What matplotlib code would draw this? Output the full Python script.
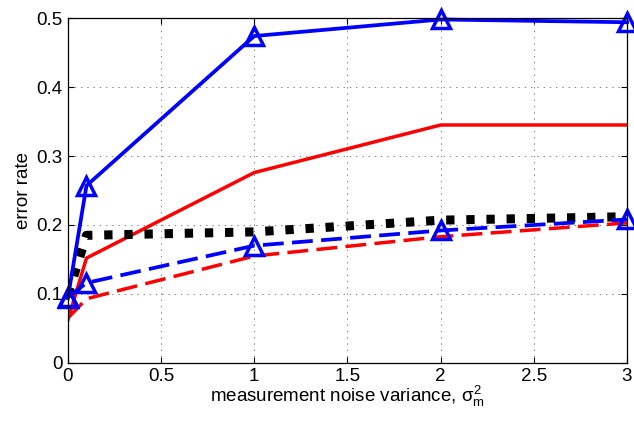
import matplotlib
matplotlib.use('Agg')
import matplotlib.pyplot as plt
from matplotlib.ticker import FormatStrFormatter

plt.rcParams['font.family'] = ['Liberation Sans', 'DejaVu Sans']
plt.rcParams['mathtext.fontset'] = 'custom'
plt.rcParams['mathtext.rm'] = 'Liberation Sans'
plt.rcParams['mathtext.it'] = 'Liberation Sans'
plt.rcParams['lines.scale_dashes'] = False

# measurement noise variance values
noise_var = [0, 0.1, 1, 2, 3]

# error rates
blue_solid = [0.094, 0.257, 0.474, 0.498, 0.494]
red_solid = [0.062, 0.152, 0.276, 0.345, 0.345]
black_dotted = [0.098, 0.185, 0.19, 0.207, 0.212]
blue_dashed = [0.095, 0.116, 0.17, 0.192, 0.208]
red_dashed = [0.065, 0.093, 0.155, 0.183, 0.203]

fig = plt.figure(figsize=(6.34, 4.21), dpi=100)
ax = fig.add_axes([0.107, 0.138, 0.882, 0.819])

ax.plot(noise_var, red_solid, color='red', lw=2.5)
ax.plot(noise_var, red_dashed, color='red', lw=2.5, dashes=(15, 6))
ax.plot(noise_var, black_dotted, color='black', lw=6.5, dashes=(6, 8.5),
        dash_capstyle='butt')
ax.plot(noise_var, blue_dashed, color='blue', lw=2.7, dashes=(15, 6),
        marker='^', ms=13, mfc='none', mew=2.5, clip_on=False)
ax.plot(noise_var, blue_solid, color='blue', lw=2.7,
        marker='^', ms=13, mfc='none', mew=2.5, clip_on=False)

ax.set_xlim(0, 3)
ax.set_ylim(0, 0.5)
ax.set_xticks([0, 0.5, 1, 1.5, 2, 2.5, 3])
ax.set_yticks([0, 0.1, 0.2, 0.3, 0.4, 0.5])
ax.xaxis.set_major_formatter(FormatStrFormatter('%g'))
ax.yaxis.set_major_formatter(FormatStrFormatter('%g'))
ax.tick_params(direction='in', top=True, right=True, labelsize=13.5, length=4, pad=4)
ax.grid(True, color='gray', linestyle=(0, (1, 3.5)), lw=0.7)
for s in ax.spines.values():
    s.set_linewidth(0.9)

ax.set_xlabel(r'measurement noise variance, $\sigma_\mathrm{m}^2$', fontsize=13.5, labelpad=-1)
ax.set_ylabel('error rate', fontsize=13.5, labelpad=3)

fig.savefig('out.png', dpi=100)
